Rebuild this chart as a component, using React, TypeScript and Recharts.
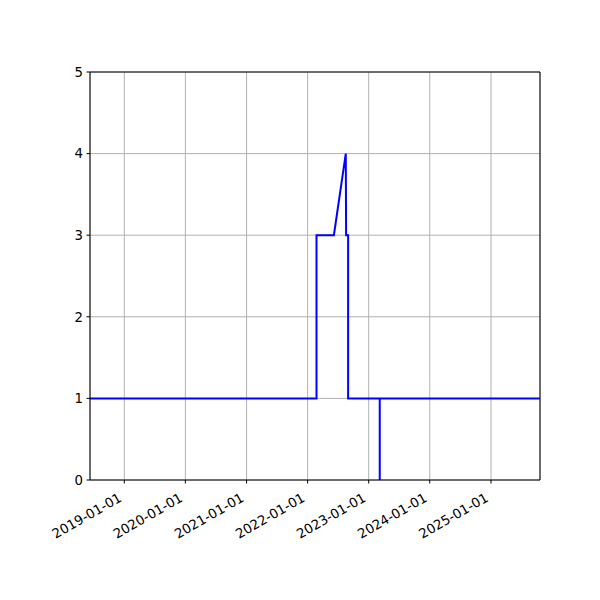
import { LineChart, Line, XAxis, YAxis, CartesianGrid, ReferenceLine } from "recharts";

// values (step-like count series)
const dates = [
  "2018-06-10",
  "2022-02-23",
  "2022-02-23",
  "2022-06-07",
  "2022-08-17",
  "2022-08-19",
  "2022-08-31",
  "2022-08-31",
  "2023-03-08",
  "2023-03-08",
  "2023-03-08",
  "2025-10-21",
];
const values = [1, 1, 3, 3, 4, 3, 3, 1, 1, 0, 1, 1];

const xTickLabels = [
  "2019-01-01",
  "2020-01-01",
  "2021-01-01",
  "2022-01-01",
  "2023-01-01",
  "2024-01-01",
  "2025-01-01",
];
const yTicks = [0, 1, 2, 3, 4, 5];

const toTime = (d: string) => Date.parse(d + "T00:00:00Z");

const data = dates.map((d, i) => ({ t: toTime(d), v: values[i] }));
const xTicks = xTickLabels.map(toTime);
const xMin = toTime(dates[0]);
const xMax = toTime(dates[dates.length - 1]);

const FONT = "DejaVu Sans, sans-serif";

const fmtDate = (t: number) => new Date(t).toISOString().slice(0, 10);

function DateTick(props: any) {
  const { x, y, payload } = props;
  return (
    <text
      x={0}
      y={0}
      transform={`translate(${x - 4},${y + 11}) rotate(-30)`}
      textAnchor="end"
      dominantBaseline="central"
      fontSize={13.3}
      fontFamily={FONT}
      fill="#000"
    >
      {fmtDate(payload.value)}
    </text>
  );
}

export default function App() {
  return (
    <div style={{ position: "absolute", left: 0, top: 0, width: 600, height: 600, background: "#fff" }}>
      <LineChart width={600} height={600} data={data} margin={{ top: 72, right: 60, left: 0, bottom: 0 }}>
        <CartesianGrid stroke="#b0b0b0" strokeWidth={1} />
        <XAxis
          dataKey="t"
          type="number"
          domain={[xMin, xMax]}
          ticks={xTicks}
          allowDataOverflow
          height={120}
          tickSize={3.5}
          tickLine={{ stroke: "#000" }}
          axisLine={{ stroke: "#000" }}
          tick={<DateTick />}
          interval={0}
        />
        <YAxis
          type="number"
          domain={[0, 5]}
          ticks={yTicks}
          width={90}
          tickSize={3.5}
          tickMargin={3.5}
          tickLine={{ stroke: "#000" }}
          axisLine={{ stroke: "#000" }}
          tick={{ fill: "#000", fontSize: 13.3, fontFamily: FONT }}
          interval={0}
        />
        <ReferenceLine y={5} stroke="#000" strokeWidth={1} />
        <ReferenceLine x={xMax} stroke="#000" strokeWidth={1} />
        <Line
          type="linear"
          dataKey="v"
          stroke="#0000ff"
          strokeWidth={2}
          dot={false}
          isAnimationActive={false}
        />
      </LineChart>
    </div>
  );
}
